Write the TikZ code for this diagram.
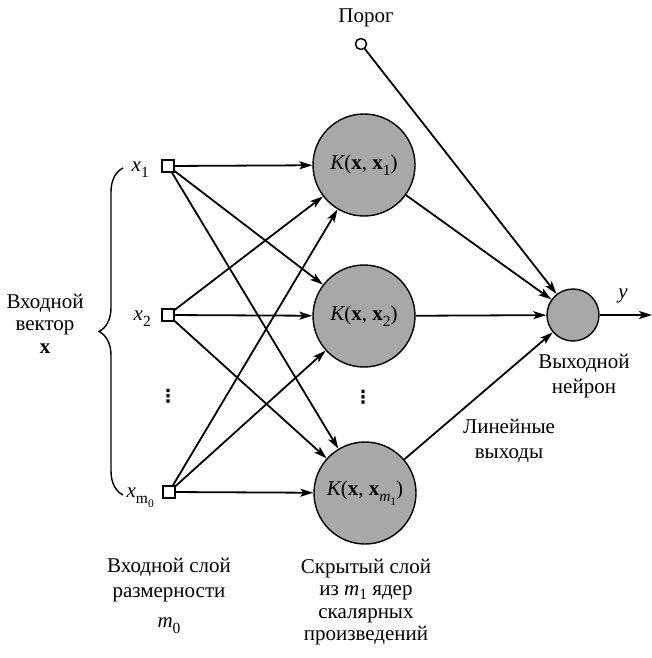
\documentclass[tikz,border=0pt]{standalone}
\usepackage{fontspec}
\setmainfont{Liberation Serif}
\newfontfamily\symfont{DejaVu Sans}
\usetikzlibrary{arrows.meta,decorations.pathreplacing}

\definecolor{cellgray}{RGB}{168,168,168}
% lowered subscript used for the indices
\newcommand\lsub[2][-6pt]{\raisebox{#1}{\fontsize{15.5}{15.5}\selectfont #2}}
\newcommand\llsub[1]{\raisebox{-4pt}{\fontsize{11.5}{11.5}\selectfont #1}}

\tikzset{
  txt/.style={font=\fontsize{21}{24}\selectfont, inner sep=0pt},
  vdot/.style={font=\symfont\bfseries\fontsize{18}{18}\selectfont, inner sep=0pt},
  inbox/.style={draw, fill=white, line width=1.4pt, minimum size=12pt, inner sep=0pt},
  kernel/.style={circle, draw, fill=cellgray, line width=1.4pt, minimum size=102pt,
    inner sep=0pt, font=\fontsize{21}{24}\selectfont},
  neuron/.style={circle, draw, fill=cellgray, line width=1.4pt, minimum size=52pt, inner sep=0pt},
  bias/.style={circle, draw, fill=white, line width=1.5pt, minimum size=11pt, inner sep=0pt},
  conn/.style={line width=1.8pt, -{Stealth[length=13pt,width=8pt,inset=3pt]}},
}

\begin{document}
\begin{tikzpicture}[x=1pt,y=-1pt]
\useasboundingbox (0,0) rectangle (652,658);

% input layer
\node[inbox] (in1) at (168,166) {};
\node[inbox] (in2) at (168,315) {};
\node[inbox] (in3) at (169,492) {};
\node[txt, anchor=base east] (lx1) at (149,171) {\itshape x\lsub{\upshape 1}};
\node[txt, anchor=base east] (lx2) at (151,320) {\itshape x\lsub{\upshape 2}};
\node[txt, anchor=base east] (lx3) at (154,497) {\itshape x\lsub{\upshape m\llsub{0}}};
\node[vdot] (vd1) at (168,396) {⋮};

% hidden layer of kernels
\node[kernel] (h1) at (364,165) {\itshape K\upshape(\textbf{x}, \textbf{x}\lsub{1})};
\node[kernel] (h2) at (364,316) {\itshape K\upshape(\textbf{x}, \textbf{x}\lsub{2})};
\node[kernel] (h3) at (365,493) {\itshape K\upshape(\textbf{x}, \textbf{x}\lsub{\itshape m\llsub{\upshape 1}})};
\node[vdot] (vd2) at (363,397) {⋮};

% output neuron and threshold
\node[neuron] (out) at (573,315) {};
\node[bias] (thr) at (361,44) {};
\coordinate (yend) at (652,315);
\node[txt, anchor=base] (lthr) at (366,23) {Порог};
\node[txt, anchor=base] (ly) at (623,298) {\itshape y};

% connections
\foreach \i in {in1,in2,in3}
  \foreach \h in {h1,h2,h3}
    \draw[conn] (\i) -- (\h);
\foreach \h in {h1,h2,h3}
  \draw[conn] (\h) -- (out);
\draw[conn] (thr) -- (out);
\draw[conn] (out) -- (yend);

% input vector brace
\coordinate (bb) at (123,495);
\coordinate (bt) at (123,168);
\draw[line width=1.4pt, decorate, decoration={brace, amplitude=24pt}] (bb) -- (bt);
\node[txt, anchor=base] (lv1) at (45,308) {Входной};
\node[txt, anchor=base] (lv2) at (45,330) {вектор};
\node[txt, anchor=base] (lv3) at (45,353) {\bfseries x};

% captions
\node[txt, anchor=base] (lo1) at (584,368) {Выходной};
\node[txt, anchor=base] (lo2) at (584,393) {нейрон};
\node[txt, anchor=base] (ll1) at (509,433) {Линейные};
\node[txt, anchor=base] (ll2) at (509,458) {выходы};

\node[txt, anchor=base] (li1) at (169,572) {Входной слой};
\node[txt, anchor=base] (li2) at (169,597) {размерности};
\node[txt, anchor=base] (li3) at (169,627) {\itshape m\lsub{\upshape 0}};

\node[txt, anchor=base] (lh1) at (366,573) {Скрытый слой};
\node[txt, anchor=base] (lh2) at (366,595) {из \textit{m}\lsub[-4pt]{1} ядер};
\node[txt, anchor=base] (lh3) at (366,618) {скалярных};
\node[txt, anchor=base] (lh4) at (366,640) {произведений};
\end{tikzpicture}
\end{document}
